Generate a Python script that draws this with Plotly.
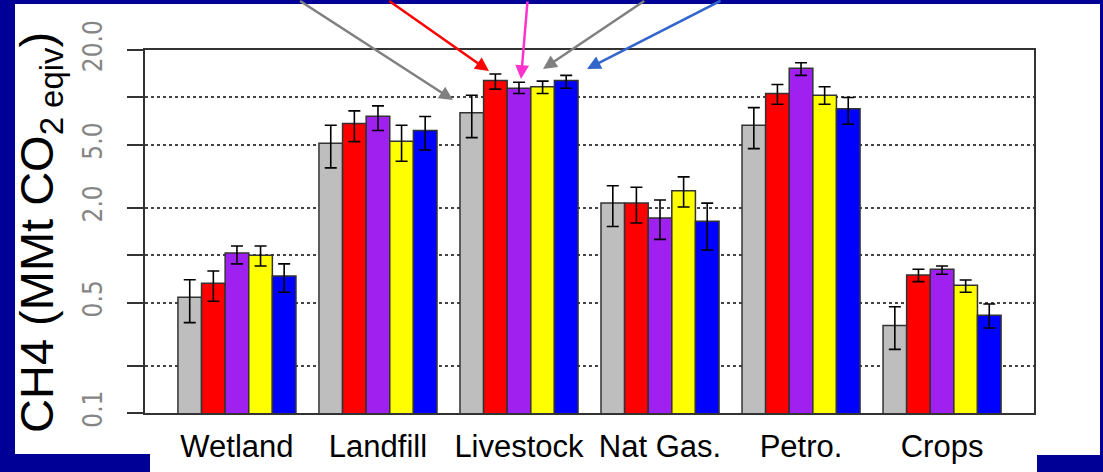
import plotly.graph_objects as go

categories = ["Wetland", "Landfill", "Livestock", "Nat Gas.", "Petro.", "Crops"]

gray_val = [0.542, 5.13, 7.99, 2.14, 6.67, 0.358]
gray_lo = [0.374, 3.58, 5.57, 1.52, 4.74, 0.253]
gray_hi = [0.700, 6.67, 10.34, 2.76, 8.63, 0.472]

red_val = [0.665, 6.83, 12.8, 2.14, 10.6, 0.750]
red_lo = [0.511, 5.25, 11.3, 1.60, 9.07, 0.680]
red_hi = [0.795, 8.22, 14.1, 2.70, 12.1, 0.815]

purple_val = [1.034, 7.61, 11.45, 1.72, 15.3, 0.815]
purple_lo = [0.881, 6.17, 10.6, 1.26, 13.8, 0.758]
purple_hi = [1.145, 8.85, 12.5, 2.24, 16.6, 0.855]

yellow_val = [1.00, 5.28, 11.7, 2.56, 10.34, 0.645]
yellow_lo = [0.855, 3.94, 10.6, 2.02, 9.07, 0.583]
yellow_hi = [1.145, 6.67, 12.7, 3.14, 11.7, 0.697]

blue_val = [0.739, 6.17, 12.8, 1.64, 8.47, 0.417]
blue_lo = [0.583, 4.65, 11.45, 1.08, 6.77, 0.346]
blue_hi = [0.881, 7.57, 13.8, 2.14, 10.0, 0.491]

tick_vals = [0.1, 0.5, 2, 5, 20]
tick_text = ["0.1", "0.5", "2.0", "5.0", "20.0"]
minor_tick_vals = [0.2, 1, 10]

series = [
    ("Series 1", gray_val, gray_lo, gray_hi, "#BEBEBE"),
    ("Series 2", red_val, red_lo, red_hi, "#FF0000"),
    ("Series 3", purple_val, purple_lo, purple_hi, "#A020F0"),
    ("Series 4", yellow_val, yellow_lo, yellow_hi, "#FFFF00"),
    ("Series 5", blue_val, blue_lo, blue_hi, "#0000FF"),
]

W, H = 1103, 472
L, R, T, B = 145, 69, 50, 59
PW, PH = W - L - R, H - T - B


def px2x(px):
    return (px - L) / PW


def py2y(py):
    return (H - B - py) / PH


NAVY = "#000096"

fig = go.Figure()
for name, val, lo, hi, col in series:
    fig.add_trace(go.Bar(
        x=categories, y=val, name=name,
        marker=dict(color=col, line=dict(color="#333333", width=1.5)),
        error_y=dict(type="data", symmetric=False,
                     array=[h - v for h, v in zip(hi, val)],
                     arrayminus=[v - l for v, l in zip(val, lo)],
                     color="black", thickness=1.6, width=6),
    ))

shapes = []
for (x0, y0, x1, y1) in [(0, -5, W + 5, 4), (-5, -5, 15, H + 5), (1100, -5, W + 5, H + 5),
                         (-5, 454, 150, H + 5), (1037, 455, W + 5, H + 5)]:
    shapes.append(dict(type="rect", xref="paper", yref="paper",
                       x0=px2x(x0), x1=px2x(x1), y0=py2y(y1), y1=py2y(y0),
                       fillcolor=NAVY, line=dict(width=0), layer="above"))

arrows = [
    ((453, 100), (310, 0), "#808080"),
    ((489, 71), (398, 0), "#FF0000"),
    ((521, 79), (527, 0), "#FF33CC"),
    ((543, 69), (635, 0), "#808080"),
    ((587, 69), (708, 0), "#3366CC"),
]
annotations = []
for (tx, ty), (sx, sy), col in arrows:
    ext = -8
    tail_x = tx + (sx - tx) * (ty - ext) / (ty - sy)
    annotations.append(dict(
        x=px2x(tx), y=py2y(ty), xref="paper", yref="paper",
        ax=tail_x - tx, ay=ext - ty, axref="pixel", ayref="pixel",
        text="", showarrow=True, arrowhead=2, arrowsize=1.1, arrowwidth=2.5,
        arrowcolor=col, standoff=0))

annotations.append(dict(
    text="CH4 (MMt CO<sub>2 eqiv</sub>)", textangle=-90,
    x=px2x(40), y=py2y(233), xref="paper", yref="paper",
    xanchor="center", yanchor="middle", showarrow=False,
    font=dict(family="Liberation Sans, Arial, sans-serif", size=47, color="black")))

fig.update_layout(
    width=W, height=H, autosize=False,
    margin=dict(l=L, r=R, t=T, b=B, pad=0),
    paper_bgcolor="white", plot_bgcolor="white",
    barmode="group", bargap=0.163, bargroupgap=0,
    showlegend=False,
    shapes=shapes, annotations=annotations,
    xaxis=dict(type="category", range=[-0.652, 5.652], showgrid=False,
               showline=True, mirror=True, linecolor="#333333", linewidth=2,
               ticks="", ticklabelstandoff=5, automargin=False,
               tickfont=dict(family="Liberation Sans, Arial, sans-serif", size=31, color="black")),
    yaxis=dict(type="log", range=[-1, 1.30103], tickvals=tick_vals, ticktext=tick_text,
               tickangle=-90, ticks="outside", ticklen=16, tickwidth=2, tickcolor="#333333",
               showline=True, mirror=True, linecolor="#333333", linewidth=2,
               showgrid=True, gridcolor="#444444", gridwidth=2, griddash="3px,3px",
               minor=dict(tickvals=minor_tick_vals, ticks="outside", ticklen=16, tickwidth=2,
                          tickcolor="#333333", showgrid=True, gridcolor="#444444",
                          gridwidth=2, griddash="3px,3px"),
               zeroline=False, ticklabelstandoff=15, automargin=False,
               tickfont=dict(family="Liberation Sans Narrow, DejaVu Sans Condensed, Liberation Sans, sans-serif",
                             size=26, color="#858585")),
)

fig.write_html("out.html", config={"displayModeBar": False},
               post_script="document.body.style.margin='0';document.body.style.overflow='hidden';")
